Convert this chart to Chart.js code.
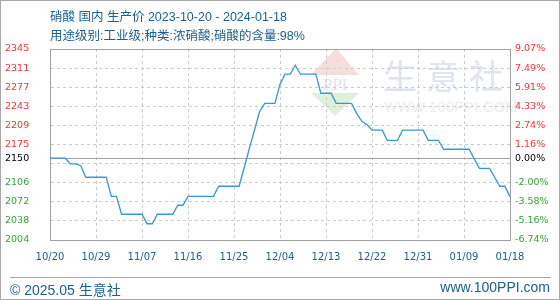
<!DOCTYPE html>
<html>
<head>
<meta charset="utf-8">
<script src="https://cdn.jsdelivr.net/npm/chart.js@4"></script>
<style>
  body { margin: 0; background: #fff; }
  #wrap { position: relative; width: 560px; height: 300px; overflow: hidden; }
  #wrap canvas { position: absolute; left: 0; top: 0; z-index: 1; }
  .txt { position: absolute; color: #1b6190; font-family: "Liberation Sans", "Noto Sans CJK SC", sans-serif; white-space: nowrap; z-index: 2; }
  #frame { position: absolute; left: 0; top: 0; width: 558px; height: 298px; border: 1px solid #a8a8a8; z-index: 3; pointer-events: none; }
  #sep { position: absolute; left: 10px; top: 277px; width: 541px; height: 0; border-top: 1px solid #a8a8a8; z-index: 2; }
  .wm { position: absolute; z-index: 0; white-space: nowrap; }
</style>
</head>
<body>
<div id="wrap">
  <svg class="wm" style="left:310px;top:46px" width="52" height="72">
    <polygon points="26,2 1,29 49,29" fill="#f7dede"/>
    <text x="25" y="44" text-anchor="middle" font-family="Liberation Serif" font-size="17" fill="#dfe4ee">PPI</text>
    <polygon points="1,47 49,47 25,70" fill="#dcf0dc"/>
  </svg>
  <div class="wm" style="left:383px;top:50px;font:34px 'Noto Sans CJK SC';letter-spacing:9px;color:#dfe4ee">生意社</div>
  <div class="wm" style="left:384px;top:99px;font:14px 'Liberation Sans';letter-spacing:0.6px;color:#ececec">WWW.100PPI.COM</div>
  <canvas id="chart-price" width="560" height="300"></canvas>
  <div class="txt" style="left:50px;top:6px;font-size:12.5px">硝酸 国内 生产价 2023-10-20 - 2024-01-18</div>
  <div class="txt" style="left:50px;top:25px;font-size:12.5px">用途级别:工业级;种类:浓硝酸;硝酸的含量:98%</div>
  <div id="sep"></div>
  <div class="txt" style="left:10px;top:279px;font-size:14px">© 2025.05 生意社</div>
  <div class="txt" style="right:10px;top:279px;font-size:14px">www.100PPI.com</div>
  <div id="frame"></div>
</div>
<script>
// daily prices, 2023-10-20 .. 2024-01-18
const prices = [
  2150, 2150, 2150, 2150, 2140, 2140, 2137, 2116, 2116, 2116,
  2116, 2116, 2082, 2082, 2050, 2050, 2050, 2050, 2050, 2033,
  2033, 2050, 2050, 2050, 2050, 2066, 2066, 2082, 2082, 2082,
  2082, 2082, 2082, 2100, 2100, 2100, 2100, 2100, 2133, 2167,
  2200, 2233, 2248, 2248, 2248, 2282, 2300, 2300, 2316, 2300,
  2300, 2300, 2300, 2266, 2266, 2266, 2248, 2248, 2248, 2248,
  2230, 2216, 2210, 2200, 2200, 2200, 2182, 2182, 2182, 2200,
  2200, 2200, 2200, 2200, 2182, 2182, 2182, 2166, 2166, 2166,
  2166, 2166, 2166, 2149, 2132, 2132, 2132, 2116, 2100, 2100,
  2081
];
const xLabels = ['10/20', '10/29', '11/07', '11/16', '11/25', '12/04', '12/13', '12/22', '12/31', '01/09', '01/18'];
const yTicks = [2004, 2038.1, 2072.2, 2106.3, 2140.4, 2150, 2174.5, 2208.6, 2242.7, 2276.8, 2310.9, 2345];
const yLabels = ['2004', '2038', '2072', '2106', '', '2150', '2175', '2209', '2243', '2277', '2311', '2345'];
const pctLabels = ['-6.74%', '-5.16%', '-3.58%', '-2.00%', '', '0.00%', '1.16%', '2.74%', '4.33%', '5.91%', '7.49%', '9.07%'];
const basePrice = 2150;

const GRID = '#cccccc';
const EDGE = '#a0a0a0';

function labelColor(ctx) {
    const v = ctx.tick.value;
    if (v === basePrice) return '#000000';
    return v > basePrice ? '#ff3030' : '#30a830';
}
function solidY(v) {
    return v === basePrice || v === yTicks[0] || v === yTicks[yTicks.length - 1];
}

new Chart(document.getElementById('chart-price'), {
    type: 'line',
    data: {
        datasets: [{
            data: prices.map((p, i) => ({ x: i, y: p })),
            borderColor: '#3598da',
            borderWidth: 1.3,
            pointRadius: 0,
            tension: 0,
            fill: false
        }]
    },
    options: {
        responsive: false,
        animation: false,
        layout: { padding: { left: 5, right: 5, top: 49, bottom: 30 } },
        plugins: { legend: { display: false }, tooltip: { enabled: false } },
        scales: {
            x: {
                type: 'linear',
                min: 0,
                max: prices.length - 1,
                afterBuildTicks: scale => {
                    scale.ticks = xLabels.map((l, i) => ({ value: i * 9 }));
                },
                afterFit: scale => { scale.height = 30; },
                grid: {
                    drawTicks: false,
                    color: ctx => (ctx.type === 'tick' && (ctx.tick.value === 0 || ctx.tick.value === 90)) ? 'rgba(0,0,0,0)' : GRID
                },
                border: {
                    color: EDGE,
                    dash: ctx => ctx.type === 'tick' ? [3, 3] : []
                },
                ticks: {
                    autoSkip: false,
                    maxRotation: 0,
                    padding: 11,
                    color: '#1b6190',
                    font: { family: 'DejaVu Sans', size: 10 },
                    callback: (v, i) => xLabels[i]
                }
            },
            y: {
                position: 'left',
                min: yTicks[0],
                max: yTicks[yTicks.length - 1],
                afterBuildTicks: scale => {
                    scale.ticks = yTicks.map(v => ({ value: v }));
                },
                afterFit: scale => { scale.width = 45; },
                grid: {
                    drawTicks: false,
                    color: ctx => (ctx.type === 'tick' && solidY(ctx.tick.value)) ? EDGE : GRID
                },
                border: {
                    color: EDGE,
                    dash: ctx => (ctx.type === 'tick' && !solidY(ctx.tick.value)) ? [3, 3] : []
                },
                ticks: {
                    crossAlign: 'far',
                    color: labelColor,
                    font: { family: 'DejaVu Sans', size: 9.5 },
                    callback: (v, i) => yLabels[i]
                }
            },
            y2: {
                position: 'right',
                min: yTicks[0],
                max: yTicks[yTicks.length - 1],
                afterBuildTicks: scale => {
                    scale.ticks = yTicks.map(v => ({ value: v }));
                },
                afterFit: scale => { scale.width = 45; },
                grid: { drawOnChartArea: false, drawTicks: false },
                border: { color: EDGE },
                ticks: {
                    padding: 5,
                    color: labelColor,
                    font: { family: 'DejaVu Sans', size: 9.5 },
                    callback: (v, i) => pctLabels[i]
                }
            }
        }
    }
});
</script>
</body>
</html>
